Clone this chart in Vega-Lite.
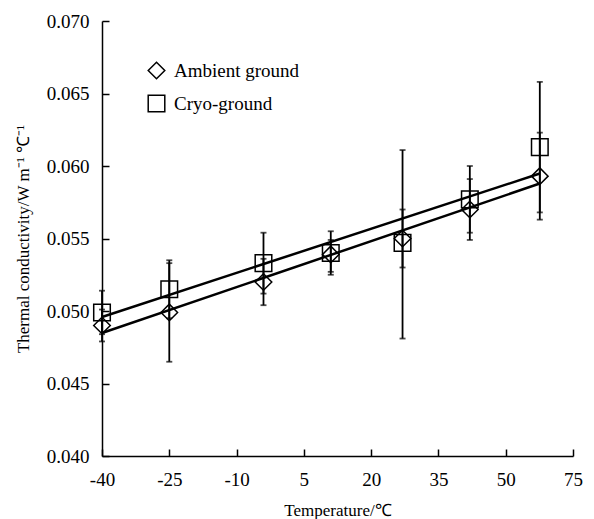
{
  "$schema": "https://vega.github.io/schema/vega-lite/v6.json",
  "autosize": "none",
  "width": 471,
  "height": 435,
  "padding": {"left": 102, "top": 21, "right": 21, "bottom": 63},
  "background": "white",
  "config": {
    "view": {"stroke": null},
    "font": "Liberation Serif",
    "axis": {
      "domainColor": "black",
      "domainWidth": 1.5,
      "tickColor": "black",
      "tickWidth": 1.5,
      "tickSize": -7,
      "grid": false,
      "labelFlush": false,
      "labelFont": "Liberation Serif",
      "labelFontSize": 19,
      "labelColor": "black",
      "titleFont": "Liberation Serif",
      "titleFontSize": 17,
      "titleFontWeight": "normal",
      "titleColor": "#000000"
    },
    "legend": {
      "orient": "none",
      "legendX": 45,
      "legendY": 40,
      "title": null,
      "symbolSize": 275,
      "symbolStrokeColor": "black",
      "symbolFillColor": "transparent",
      "symbolStrokeWidth": 1.5,
      "labelFont": "Liberation Serif",
      "labelFontSize": 19,
      "labelColor": "black",
      "labelOffset": 8,
      "rowPadding": 10,
      "padding": 0
    }
  },
  "datasets": {
    "pts": [
      {"series": "Ambient ground", "temp": -40, "k": 0.0490, "lo": 0.0479, "hi": 0.0501},
      {"series": "Ambient ground", "temp": -25, "k": 0.0499, "lo": 0.0465, "hi": 0.0533},
      {"series": "Ambient ground", "temp": -4, "k": 0.0520, "lo": 0.0504, "hi": 0.0536},
      {"series": "Ambient ground", "temp": 11, "k": 0.0539, "lo": 0.0527, "hi": 0.0549},
      {"series": "Ambient ground", "temp": 27, "k": 0.0550, "lo": 0.0530, "hi": 0.0570},
      {"series": "Ambient ground", "temp": 42, "k": 0.0570, "lo": 0.0549, "hi": 0.0591},
      {"series": "Ambient ground", "temp": 57.6, "k": 0.0593, "lo": 0.0563, "hi": 0.0623},
      {"series": "Cryo-ground", "temp": -40, "k": 0.0499, "lo": 0.0484, "hi": 0.0514},
      {"series": "Cryo-ground", "temp": -25, "k": 0.0515, "lo": 0.0495, "hi": 0.0535},
      {"series": "Cryo-ground", "temp": -4, "k": 0.0533, "lo": 0.0512, "hi": 0.0554},
      {"series": "Cryo-ground", "temp": 11, "k": 0.0540, "lo": 0.0525, "hi": 0.0555},
      {"series": "Cryo-ground", "temp": 27, "k": 0.0547, "lo": 0.0481, "hi": 0.0611},
      {"series": "Cryo-ground", "temp": 42, "k": 0.0577, "lo": 0.0554, "hi": 0.0600},
      {"series": "Cryo-ground", "temp": 57.6, "k": 0.0613, "lo": 0.0568, "hi": 0.0658}
    ],
    "fit": [
      {"series": "Ambient ground", "temp": -40, "k": 0.04848},
      {"series": "Ambient ground", "temp": 57.6, "k": 0.05879},
      {"series": "Cryo-ground", "temp": -40, "k": 0.04959},
      {"series": "Cryo-ground", "temp": 57.6, "k": 0.05948}
    ]
  },
  "encoding": {
    "x": {
      "field": "temp",
      "type": "quantitative",
      "scale": {"domain": [-40, 65], "nice": false, "zero": false},
      "axis": {
        "title": "Temperature/℃",
        "values": [-40, -25, -10, 5, 20, 35, 50, 65],
        "labelExpr": "datum.value == 65 ? '75' : (datum.value < 0 ? '-' + abs(datum.value) : '' + datum.value)",
        "labelPadding": 21,
        "titlePadding": 13
      }
    }
  },
  "layer": [
    {
      "data": {"name": "pts"},
      "mark": {"type": "rule", "color": "black", "strokeWidth": 1.8},
      "encoding": {
        "y": {
          "field": "lo",
          "type": "quantitative",
          "scale": {"domain": [0.04, 0.07], "nice": false, "zero": false},
          "axis": {
            "title": "Thermal conductivity/W m⁻¹ ℃⁻¹",
            "values": [0.04, 0.045, 0.05, 0.055, 0.06, 0.065, 0.07],
            "format": ".3f",
            "labelPadding": 20,
            "titlePadding": 14
          }
        },
        "y2": {"field": "hi"}
      }
    },
    {
      "data": {"name": "pts"},
      "mark": {"type": "tick", "orient": "horizontal", "color": "black", "size": 6, "thickness": 1.8},
      "encoding": {"y": {"field": "lo", "type": "quantitative"}}
    },
    {
      "data": {"name": "pts"},
      "mark": {"type": "tick", "orient": "horizontal", "color": "black", "size": 6, "thickness": 1.8},
      "encoding": {"y": {"field": "hi", "type": "quantitative"}}
    },
    {
      "data": {"name": "fit"},
      "mark": {"type": "line", "color": "black", "strokeWidth": 2.5},
      "encoding": {
        "y": {"field": "k", "type": "quantitative"},
        "detail": {"field": "series"}
      }
    },
    {
      "data": {"name": "pts"},
      "mark": {"type": "point", "filled": false, "color": "black", "strokeWidth": 1.5, "size": 275, "opacity": 1},
      "encoding": {
        "y": {"field": "k", "type": "quantitative"},
        "shape": {
          "field": "series",
          "type": "nominal",
          "scale": {"domain": ["Ambient ground", "Cryo-ground"], "range": ["diamond", "square"]}
        }
      }
    }
  ]
}
